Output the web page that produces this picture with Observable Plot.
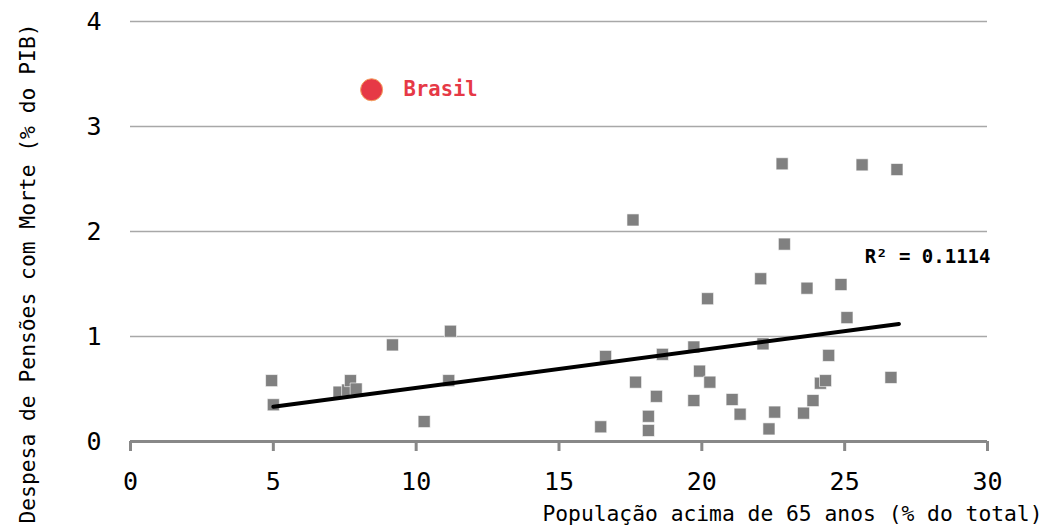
<!DOCTYPE html>
<html>
<head>
<meta charset="utf-8">
<script src="https://cdn.jsdelivr.net/npm/d3@7"></script>
<script src="https://cdn.jsdelivr.net/npm/@observablehq/plot@0.6"></script>
<style>
  html, body { margin: 0; padding: 0; background: #fff; }
</style>
</head>
<body>
<div id="chart"></div>
<script>
// Countries: population 65+ (% of total) vs survivor pension spending (% of GDP)
const popX = [4.94, 5.0, 7.3, 7.6, 7.7, 7.9, 9.17, 10.28, 11.2, 11.14, 16.46, 16.63, 17.59, 17.68, 18.13, 18.13, 18.41, 18.62, 19.72, 19.72, 19.92, 20.2, 20.28, 21.06, 21.34, 22.06, 22.14, 22.35, 22.55, 22.81, 22.89, 23.56, 23.68, 23.89, 24.15, 24.33, 24.44, 24.87, 25.08, 25.61, 26.62, 26.83];
const spendY = [0.58, 0.35, 0.47, 0.49, 0.58, 0.50, 0.92, 0.19, 1.05, 0.58, 0.14, 0.81, 2.11, 0.565, 0.24, 0.105, 0.43, 0.83, 0.90, 0.39, 0.67, 1.36, 0.565, 0.40, 0.26, 1.55, 0.93, 0.12, 0.28, 2.645, 1.88, 0.27, 1.46, 0.39, 0.555, 0.58, 0.82, 1.495, 1.18, 2.635, 0.61, 2.59];

const brasilX = [8.44];
const brasilY = [3.35];
const brasilLabel = ["Brasil"];

const trendX = [5.0, 26.9];
const trendY = [0.33, 1.12];

const r2Label = ["R² = 0.1114"];
const r2Pos = {x: 25.7, y: 1.76};

const xTicks = [0, 5, 10, 15, 20, 25, 30];
const yTicks = [0, 1, 2, 3, 4];
const gridY = [1, 2, 3, 4];

const xLabel = "População acima de 65 anos (% do total)";
const yLabel = "Despesa de Pensões com Morte (% do PIB)";

const points = popX.map((x, i) => ({x, y: spendY[i]}));
const brasil = brasilX.map((x, i) => ({x, y: brasilY[i], label: brasilLabel[i]}));
const trend = trendX.map((x, i) => ({x, y: trendY[i]}));

const font = "'DejaVu Sans Mono', monospace";

const chart = Plot.plot({
  width: 1048,
  height: 531,
  marginLeft: 130,
  marginRight: 61,
  marginTop: 21,
  marginBottom: 90,
  style: {fontFamily: font, background: "#fff", overflow: "visible"},
  x: {domain: [0, 30]},
  y: {domain: [0, 4]},
  marks: [
    Plot.ruleY(gridY, {stroke: "#a8a8a8", strokeWidth: 1.5}),
    Plot.ruleY([0], {stroke: "#888", strokeWidth: 3}),
    Plot.axisX(xTicks, {tickSize: 10, tickPadding: 21, fontSize: 25, stroke: "#888", strokeWidth: 3, color: "#000", label: null, tickFormat: "d"}),
    Plot.axisY(yTicks, {tickSize: 0, tickPadding: 29, fontSize: 25, color: "#000", label: null, tickFormat: "d"}),
    Plot.dot(points, {x: "x", y: "y", symbol: "square", r: 6.8, fill: "#808080", stroke: "#fff", strokeWidth: 0.6}),
    Plot.line(trend, {x: "x", y: "y", stroke: "#000", strokeWidth: 4}),
    Plot.dot(brasil, {x: "x", y: "y", r: 11, fill: "#e63946", stroke: "#f4a261", strokeWidth: 1}),
    Plot.text(brasil, {x: "x", y: "y", text: "label", dx: 32, textAnchor: "start", fontSize: 20.5, fontWeight: "bold", fill: "#e63946"}),
    Plot.text(r2Label, {x: () => r2Pos.x, y: () => r2Pos.y, textAnchor: "start", fontSize: 19, fontWeight: "bold", fill: "#000"}),
    Plot.text([xLabel], {frameAnchor: "bottom-right", dx: 55, dy: 79, textAnchor: "end", fontSize: 21.3, fill: "#000"}),
    Plot.text([yLabel], {frameAnchor: "left", rotate: -90, dx: -102, dy: 42, textAnchor: "middle", fontSize: 21.3, fill: "#000"})
  ]
});
document.getElementById("chart").appendChild(chart);
</script>
</body>
</html>
